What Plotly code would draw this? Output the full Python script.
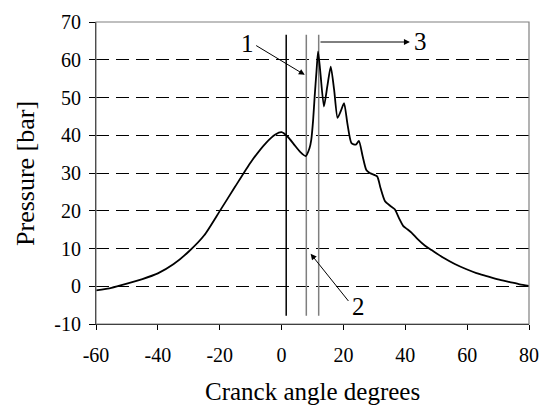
import plotly.graph_objects as go

crank_deg = [-60, -55, -50, -45, -40, -35, -30, -25, -20, -15, -10, -5, -2, 0, 2, 4, 6, 7.8, 9,
             9.6, 10.2, 10.7, 11.3, 11.8, 12.5, 13.7, 14.8, 15.9, 17, 18.1, 19.1, 20.2, 21.3,
             22.6, 24, 25, 26.2, 27.4, 28.5, 30.9, 32, 33.4, 35, 36.6, 38, 39.3, 40.5, 42,
             44, 46.3, 48.5, 52.2, 56, 59.8, 63, 66.3, 70, 73.8, 77, 80]
pressure_bar = [-1.1, -0.4, 0.7, 1.9, 3.4, 5.8, 9.2, 13.5, 19.9, 26.4, 32.8, 38.0, 40.2, 40.8,
                39.6, 37.6, 35.6, 34.5, 36.5, 38.8, 44, 50.3, 57, 62.2, 57, 47.6, 53, 58.2, 52,
                44.6, 46.3, 48.5, 43, 37.9, 37.5, 38.5, 34.5, 30.8, 30.0, 29.1, 26, 22.6, 21.4,
                20.4, 18, 16, 15.2, 14.2, 12.5, 10.8, 9.6, 7.6, 5.9, 4.5, 3.5, 2.7, 1.8, 1.1,
                0.5, 0.07]

marker_deg = [1.5, 8.0, 12.0]
marker_colors = ["black", "#7f7f7f", "#7f7f7f"]
marker_span = [-7.8, 66.6]

x_ticks = [-60, -40, -20, 0, 20, 40, 60, 80]
x_tick_labels = ["-60", "-40", "-20", "0", "20", "40", "60", "80"]
y_ticks = [-10, 0, 10, 20, 30, 40, 50, 60, 70]
y_tick_labels = ["-10", "0", "10", "20", "30", "40", "50", "60", "70"]

x_title = "Cranck angle degrees"
y_title = "Pressure [bar]"

FONT = "Liberation Serif"

fig = go.Figure()

for d, c in zip(marker_deg, marker_colors):
    fig.add_trace(go.Scatter(x=[d, d], y=marker_span, mode="lines",
                             line=dict(color=c, width=1.5), showlegend=False, hoverinfo="skip"))

fig.add_trace(go.Scatter(x=crank_deg, y=pressure_bar, mode="lines",
                         line=dict(color="black", width=1.8, shape="spline", smoothing=0.6),
                         showlegend=False))

ann_font = dict(family=FONT, size=25, color="black")
fig.add_annotation(x=7.5, y=56, ax=-8.7, ay=64.0, xref="x", yref="y", axref="x", ayref="y",
                   showarrow=True, arrowhead=2, arrowsize=1.2, arrowwidth=1, arrowcolor="black", text="")
fig.add_annotation(x=-11.0, y=64.3, text="1", showarrow=False, font=ann_font)
fig.add_annotation(x=9.4, y=8.6, ax=22.0, ay=-4.3, xref="x", yref="y", axref="x", ayref="y",
                   showarrow=True, arrowhead=2, arrowsize=1.2, arrowwidth=1, arrowcolor="black", text="")
fig.add_annotation(x=24.9, y=-5.4, text="2", showarrow=False, font=ann_font)
fig.add_annotation(x=41.5, y=64.7, ax=12.1, ay=64.7, xref="x", yref="y", axref="x", ayref="y",
                   showarrow=True, arrowhead=2, arrowsize=1.2, arrowwidth=1, arrowcolor="black", text="")
fig.add_annotation(x=44.8, y=64.9, text="3", showarrow=False, font=ann_font)

title_font = dict(family=FONT, size=25, color="black")
fig.add_annotation(x=0.5, y=-0.222, xref="paper", yref="paper", text=x_title, showarrow=False,
                   font=title_font, xanchor="center", yanchor="middle")
fig.add_annotation(x=-0.164, y=0.5, xref="paper", yref="paper", text=y_title, showarrow=False,
                   font=dict(family=FONT, size=26, color="black"), textangle=-90,
                   xanchor="center", yanchor="middle")

fig.add_shape(type="rect", xref="paper", yref="paper", x0=0, y0=0, x1=1, y1=1,
              line=dict(color="#808080", width=1.2), layer="above")

fig.update_layout(
    width=542, height=408,
    margin=dict(l=96, r=13, t=22, b=84),
    plot_bgcolor="white", paper_bgcolor="white",
    font=dict(family=FONT, color="black"),
    xaxis=dict(range=[-60, 80], tickvals=x_ticks, ticktext=x_tick_labels, ticks="outside",
               ticklen=5, tickcolor="black", automargin=False,
               showline=True, linecolor="black", linewidth=1.2, showgrid=False, zeroline=False,
               tickfont=dict(family=FONT, size=20), ticklabelstandoff=8),
    yaxis=dict(range=[-10, 70], tickvals=y_ticks, ticktext=y_tick_labels, ticks="outside",
               ticklen=6, tickcolor="black", automargin=False,
               showline=True, linecolor="black", linewidth=1.2, showgrid=True, gridcolor="black",
               gridwidth=1, griddash="13px,7px", zeroline=False,
               tickfont=dict(family=FONT, size=20), ticklabelstandoff=4),
)

fig.write_html("out.html")
